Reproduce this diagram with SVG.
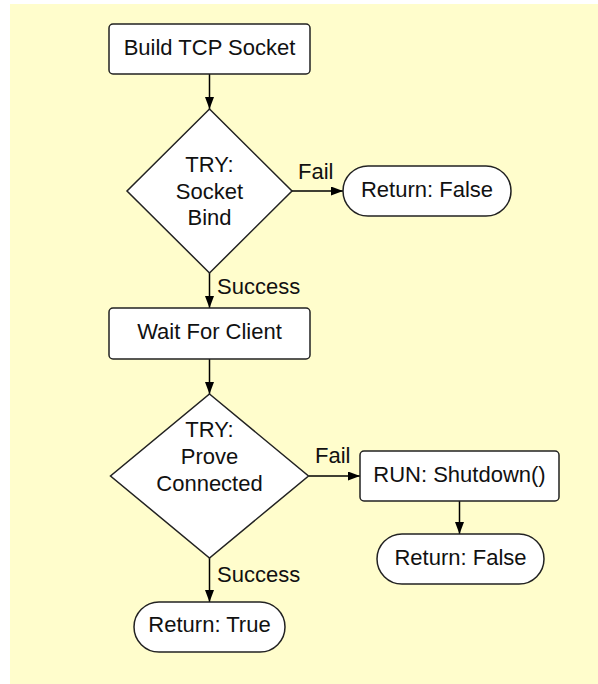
<svg xmlns="http://www.w3.org/2000/svg" width="598" height="684" viewBox="0 0 598 684">
  <defs>
    <marker id="arrow" viewBox="0 0 12 9" refX="12" refY="4.5" markerWidth="12" markerHeight="9" markerUnits="userSpaceOnUse" orient="auto">
      <path d="M0,0 L12,4.5 L0,9 Z" fill="#000"/>
    </marker>
    <style>
      .shape { fill: #ffffff; stroke: #222; stroke-width: 1.5; }
      .label { font-family: "Liberation Sans", Arial, sans-serif; font-size: 22px; fill: #111; text-anchor: middle; }
      .edge-label { font-family: "Liberation Sans", Arial, sans-serif; font-size: 22px; fill: #111; text-anchor: start; }
      .edge { fill: none; stroke: #000; stroke-width: 1.5; marker-end: url(#arrow); }
    </style>
  </defs>

  <!-- page background -->
  <rect x="0" y="0" width="598" height="684" fill="#ffffff"/>
  <rect x="10" y="4" width="588" height="680" fill="#fffdcc"/>

  <!-- connectors -->
  <g id="connectors">
    <line class="edge" x1="209.5" y1="74" x2="209.5" y2="109"/>
    <line class="edge" x1="292" y1="191" x2="343" y2="191"/>
    <line class="edge" x1="209.5" y1="273" x2="209.5" y2="308"/>
    <line class="edge" x1="209.5" y1="359" x2="209.5" y2="394"/>
    <line class="edge" x1="308.5" y1="476" x2="360" y2="476"/>
    <line class="edge" x1="459.5" y1="501" x2="459.5" y2="534"/>
    <line class="edge" x1="209.5" y1="558" x2="209.5" y2="602"/>
    <text class="edge-label" x="298" y="179">Fail</text>
    <text class="edge-label" x="217" y="294">Success</text>
    <text class="edge-label" x="315" y="463">Fail</text>
    <text class="edge-label" x="217" y="582">Success</text>
  </g>

  <g id="build-socket">
    <rect class="shape" x="109" y="24" width="201" height="50" rx="4"/>
    <text class="label" x="209.5" y="55">Build TCP Socket</text>
  </g>

  <g id="try-bind">
    <polygon class="shape" points="209.5,109 292,191 209.5,273 127,191"/>
    <text class="label" x="209.5" y="172">TRY:</text>
    <text class="label" x="209.5" y="199">Socket</text>
    <text class="label" x="209.5" y="225">Bind</text>
  </g>

  <g id="return-false-1">
    <rect class="shape" x="343" y="166" width="168" height="50" rx="25"/>
    <text class="label" x="427" y="197">Return: False</text>
  </g>

  <g id="wait-client">
    <rect class="shape" x="109" y="308" width="201" height="51" rx="4"/>
    <text class="label" x="209.5" y="339">Wait For Client</text>
  </g>

  <g id="try-connected">
    <polygon class="shape" points="209.5,394 308.5,476 209.5,558 110.5,476"/>
    <text class="label" x="209.5" y="437">TRY:</text>
    <text class="label" x="209.5" y="464">Prove</text>
    <text class="label" x="209.5" y="491">Connected</text>
  </g>

  <g id="run-shutdown">
    <rect class="shape" x="360" y="451" width="199" height="50" rx="4"/>
    <text class="label" x="459.5" y="482">RUN: Shutdown()</text>
  </g>

  <g id="return-false-2">
    <rect class="shape" x="377" y="534" width="167" height="50" rx="25"/>
    <text class="label" x="460.5" y="565">Return: False</text>
  </g>

  <g id="return-true">
    <rect class="shape" x="134" y="602" width="151" height="50" rx="25"/>
    <text class="label" x="209.5" y="632">Return: True</text>
  </g>
</svg>
